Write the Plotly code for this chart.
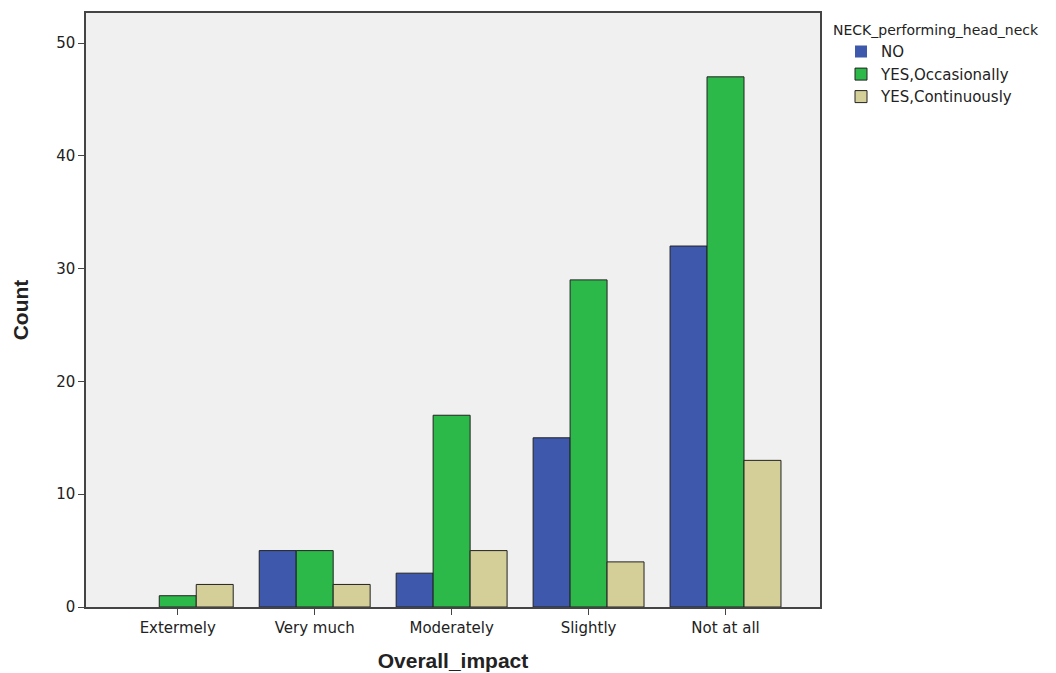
import plotly.graph_objects as go

categories = ["Extermely", "Very much", "Moderately", "Slightly", "Not at all"]
no_vals = [0, 5, 3, 15, 32]
occ_vals = [1, 5, 17, 29, 47]
cont_vals = [2, 2, 5, 4, 13]
series_names = ["NO", "YES,Occasionally", "YES,Continuously"]
colors = ["#3E58AC", "#2DB84A", "#D4CE99"]

fig = go.Figure()
for name, vals, col in zip(series_names, [no_vals, occ_vals, cont_vals], colors):
    fig.add_trace(go.Bar(
        x=categories, y=vals, name=name,
        marker=dict(color=col, line=dict(color="#222222",
                                         width=[0 if v == 0 else 1 for v in vals])),
    ))

font = "DejaVu Sans, Liberation Sans, Arial, sans-serif"
bold_font = "Liberation Sans, Arial, sans-serif"
fig.update_layout(
    width=1056, height=673,
    barmode="group", bargap=0.19, bargroupgap=0,
    paper_bgcolor="white", plot_bgcolor="#F0F0F0",
    margin=dict(l=86, r=236, t=13, b=66, autoexpand=False),
    font=dict(family=font, size=14, color="#222222"),
    showlegend=True,
    legend=dict(
        x=1.015, y=0.993, xanchor="left", yanchor="top",
        title=dict(text="NECK_performing_head_neck", font=dict(size=14, family=font)),
        font=dict(size=15, family=font),
        itemwidth=30, tracegroupgap=0, indentation=10,
        bgcolor="rgba(0,0,0,0)",
    ),
    xaxis=dict(
        range=[-0.67, 4.69], automargin=False,
        showline=True, linecolor="#444444", linewidth=1.5, mirror=True,
        ticks="outside", ticklen=6, tickcolor="#444444",
        showgrid=False, zeroline=False,
        tickfont=dict(size=15, family=font),
        title=dict(text="<b>Overall_impact</b>", font=dict(size=21, family=bold_font), standoff=18),
    ),
    yaxis=dict(
        range=[0, 52.66], automargin=False,
        tickvals=[0, 10, 20, 30, 40, 50],
        showline=True, linecolor="#444444", linewidth=1.5, mirror=True,
        ticks="outside", ticklen=6, tickcolor="#444444",
        showgrid=False, zeroline=False,
        tickfont=dict(size=15, family=font),
        title=dict(text="<b>Count</b>", font=dict(size=21, family=bold_font), standoff=22),
    ),
)

fig.write_html("out.html", config={"displayModeBar": False},
               post_script="document.body.style.margin='0';")
